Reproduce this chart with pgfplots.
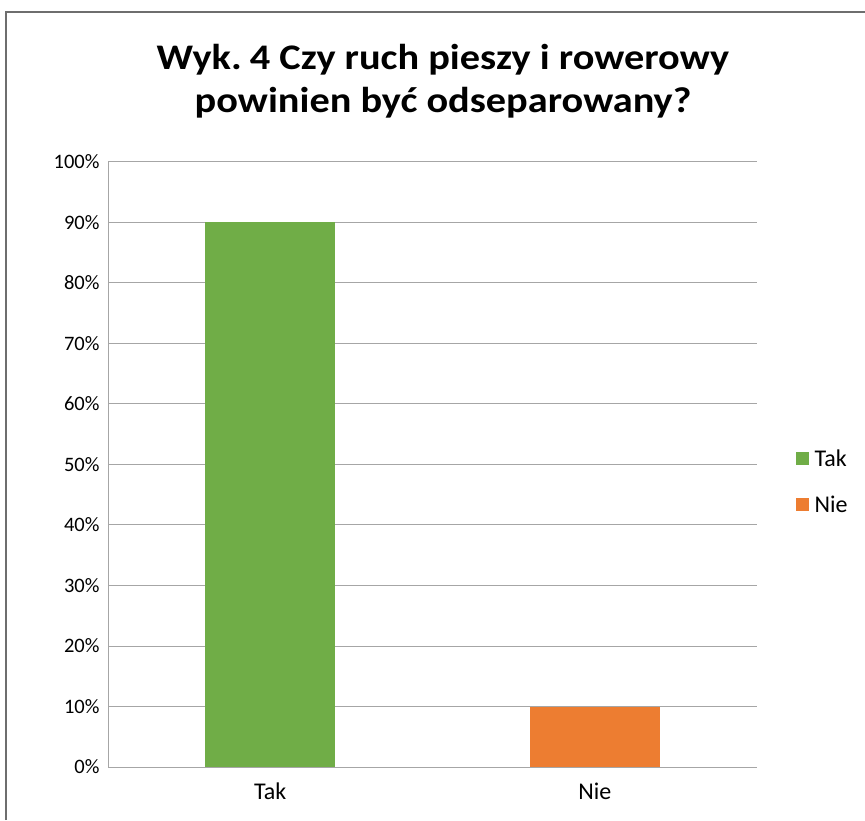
\documentclass[border=0pt]{standalone}
\usepackage{fontspec}
\setmainfont{Carlito}
\newfontfamily\titlefont{Carlito}[FakeStretch=1.12]
\usepackage{pgfplots}
\pgfplotsset{compat=1.18}
\definecolor{cgreen}{HTML}{70AD47}
\definecolor{corange}{HTML}{ED7D31}
\definecolor{cgrid}{HTML}{A6A6A6}
\definecolor{cframe}{HTML}{6E6E6E}
\begin{document}
\begin{tikzpicture}[x=1pt,y=1pt]
\path[use as bounding box] (0,0) rectangle (865,820);
\draw[cframe,line width=1.8pt] (6,0) -- (6,808) -- (865,808);
\node[anchor=base,inner sep=0pt,font=\titlefont\bfseries\fontsize{36}{40}\selectfont] at (443,750) {Wyk.\hspace{-4pt} 4 Czy ruch pieszy i rowerowy};
\node[anchor=base,inner sep=0pt,font=\titlefont\bfseries\fontsize{36}{40}\selectfont] at (443,707) {powinien być odseparowany?};
\begin{axis}[
  at={(108pt,53pt)}, anchor=south west,
  scale only axis, width=649pt, height=605pt,
  xmin=-0.5, xmax=1.5, ymin=0, ymax=100,
  xtick={0,1}, xticklabels={Tak,Nie},
  ytick={0,10,...,100},
  yticklabel={\pgfmathprintnumber{\tick}\%},
  /pgf/number format/assume math mode=true,
  yticklabel style={font=\fontsize{20.5}{23}\selectfont, xshift=-5pt},
  xticklabel style={font=\fontsize{24}{26}\selectfont, yshift=-12pt},
  major tick length=0pt,
  ymajorgrids, grid style={cgrid,line width=1pt},
  axis line style={cgrid,line width=1pt},
  axis x line*=bottom, axis y line*=left,
  x axis line style={-}, y axis line style={-},
  ybar=0pt, bar width=130pt,
  legend style={at={(1.059,0.472)},anchor=west,draw=none,fill=none,
    font=\fontsize{24}{26}\selectfont, row sep=24pt,
    legend cell align=left, inner sep=0pt,
    nodes={inner sep=2pt},
    /tikz/every odd column/.append style={column sep=4pt}},
  legend image code/.code={\fill[#1] (0pt,-6.5pt) rectangle (13pt,6.5pt);},
]
\addplot[fill=cgreen,draw=none,bar shift=0pt] coordinates {(0,90)};
\addlegendentry{Tak}
\addplot[fill=corange,draw=none,bar shift=0pt] coordinates {(1,10)};
\addlegendentry{Nie}
\end{axis}
\end{tikzpicture}
\end{document}
